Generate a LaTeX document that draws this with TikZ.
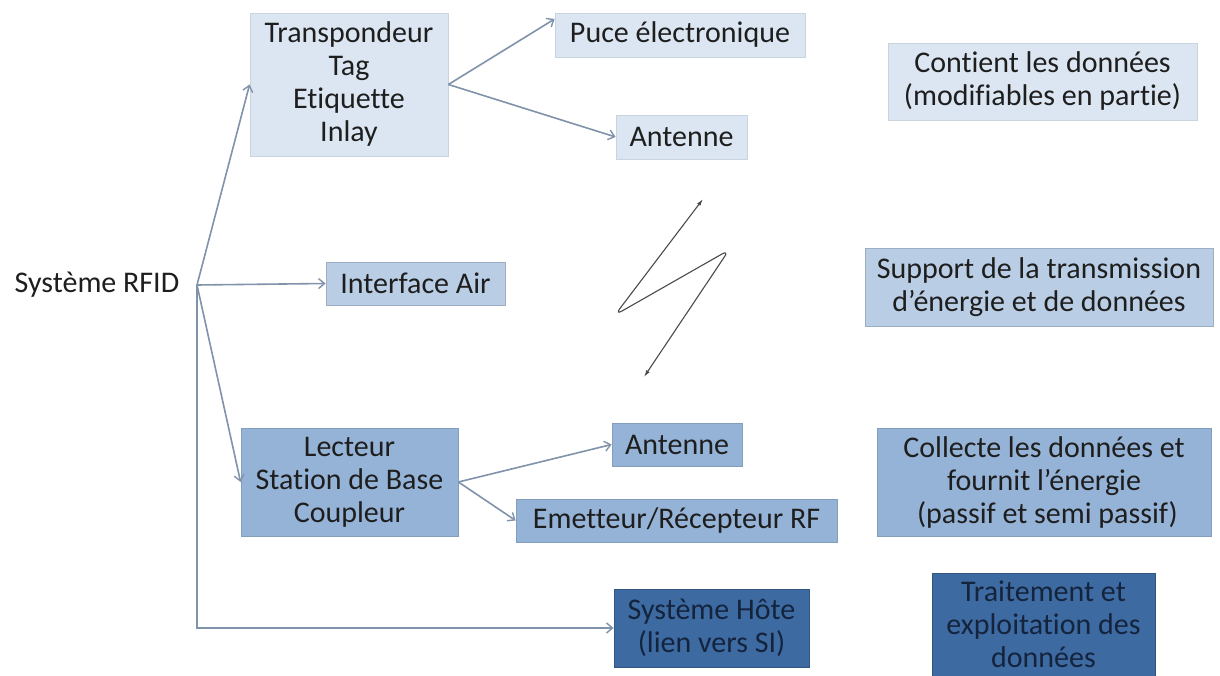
\documentclass[tikz,border=0pt]{standalone}
\usepackage{fontspec}
\setmainfont{Carlito}[Ligatures={NoCommon}]
\usetikzlibrary{arrows.meta}
\definecolor{lightfill}{HTML}{DCE6F2}
\definecolor{midfill}{HTML}{B9CDE5}
\definecolor{medfill}{HTML}{95B3D7}
\definecolor{darkfill}{HTML}{3E6AA2}
\definecolor{darktext}{HTML}{14243D}
\definecolor{txt}{HTML}{1E1E1E}
\definecolor{arrcol}{HTML}{8093AB}
\definecolor{zigcol}{HTML}{4A4A4A}
\tikzset{
  box/.style={rectangle, inner sep=0pt, align=center, text=txt,
    font=\fontsize{30}{33}\selectfont, line width=0.8pt},
  lightbox/.style={box, fill=lightfill, draw=lightfill!92!black},
  midbox/.style={box, fill=midfill, draw=midfill!85!black},
  medbox/.style={box, fill=medfill, draw=medfill!88!black},
  darkbox/.style={box, fill=darkfill, draw=darkfill!80!black, text=darktext},
  conn/.style={draw=arrcol, line width=1.6pt, -{Straight Barb[length=6pt,width=10pt,line width=1.4pt]}},
  zig/.style={draw=zigcol, line width=1.1pt, rounded corners=8pt,
    {Latex[length=7pt,width=4pt]}-{Latex[length=7pt,width=4pt]}}
}
\begin{document}
\begin{tikzpicture}[x=1pt,y=-1pt]
\clip (0,0) rectangle (1220,676);
\fill[white] (0,0) rectangle (1220,676);

% left column
\node[box, anchor=center] (sys) at (97,285) {Système RFID};
\coordinate (br) at (197,285);

% boxes
\node[lightbox, minimum width=198pt, minimum height=143pt] (tp) at (349,84.5) {Transpondeur\\Tag\\Etiquette\\Inlay};
\node[lightbox, minimum width=250pt, minimum height=44pt] (puce) at (680,35) {Puce électronique};
\node[lightbox, minimum width=131pt, minimum height=44pt] (ant1) at (681.5,137) {Antenne};
\node[lightbox, minimum width=309pt, minimum height=77pt] (cont) at (1042.5,81.5) {Contient les données\\(modifiables en partie)};

\node[midbox, minimum width=179pt, minimum height=43pt] (iface) at (415.5,283.5) {Interface Air};
\node[midbox, minimum width=348pt, minimum height=78pt] (supp) at (1039,287) {Support de la transmission\\d’énergie et de données};

\node[medbox, minimum width=217pt, minimum height=108pt] (lect) at (349.5,482) {Lecteur\\Station de Base\\Coupleur};
\node[medbox, minimum width=130pt, minimum height=43pt] (ant2) at (677,444.5) {Antenne};
\node[medbox, minimum width=321pt, minimum height=43pt] (emet) at (676.5,520.5) {Emetteur/Récepteur RF};
\node[medbox, minimum width=334pt, minimum height=108pt] (coll) at (1044,482) {Collecte les données et\\fournit l’énergie\\\ (passif et semi passif)};

\node[darkbox, minimum width=195pt, minimum height=78pt] (hote) at (711.5,628) {Système Hôte\\(lien vers SI)};
\node[darkbox, minimum width=223pt, minimum height=103pt] (trait) at (1043.5,624.5) {Traitement et\\exploitation des\\données};

% connectors
\draw[conn] (br) -- (iface.west);
\draw[conn] (br) -- (tp.west);
\draw[conn] (br) -- (lect.west);
\draw[conn] (br) |- (hote.west);
\draw[conn] (tp.east) -- ([yshift=16pt]puce.west);
\draw[conn] (tp.east) -- (ant1.west);
\draw[conn] (lect.east) -- (ant2.west);
\draw[conn] (lect.east) -- (emet.west);

% air interface zigzag
\coordinate (z1) at (703,199);
\coordinate (z2) at (615,315);
\coordinate (z3) at (729,250);
\coordinate (z4) at (644,377);
\draw[zig] (z1) -- (z2) -- (z3) -- (z4);
\end{tikzpicture}
\end{document}
